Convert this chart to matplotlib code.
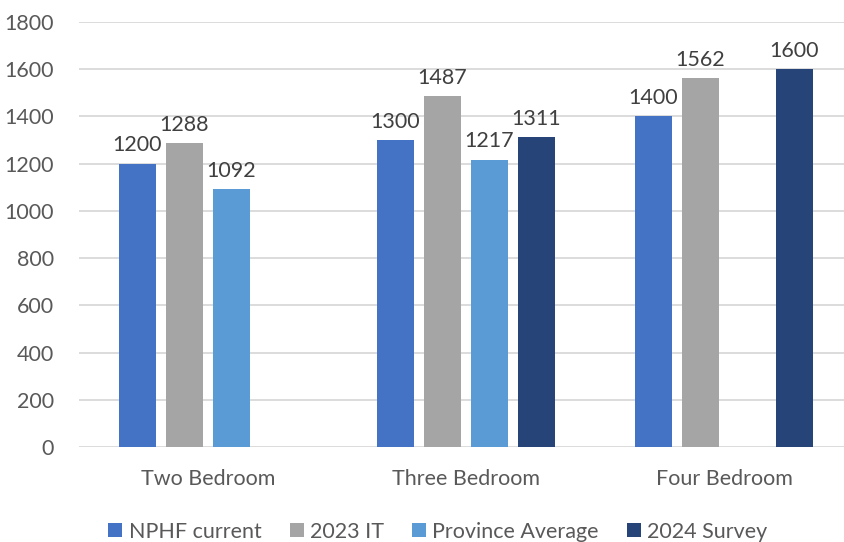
import matplotlib
matplotlib.use("Agg")
import matplotlib.pyplot as plt
import numpy as np

categories = ["Two Bedroom", "Three Bedroom", "Four Bedroom"]
series_names = ["NPHF current", "2023 IT", "Province Average", "2024 Survey"]
nphf_current = [1200, 1300, 1400]
it_2023 = [1288, 1487, 1562]
province_avg = [1092, 1217, None]
survey_2024 = [None, 1311, 1600]
yticks = [0, 200, 400, 600, 800, 1000, 1200, 1400, 1600, 1800]

colors = ["#4472C4", "#A5A5A5", "#5B9BD5", "#264478"]
series = [nphf_current, it_2023, province_avg, survey_2024]

plt.rcParams['font.family'] = ['Lato', 'DejaVu Sans']
text_color = "#595959"
fs = 15.5

fig = plt.figure(figsize=(8.45, 5.42), dpi=100)
ax = fig.add_axes([79/845, 1-447/542, 1-79/845, (447-22)/542])

x = np.arange(len(categories))
pitch = 47/258
width = 37/258
for i, (vals, name, c) in enumerate(zip(series, series_names, colors)):
    xs = [xx + (i-1.5)*pitch for xx, v in zip(x, vals) if v is not None]
    vs = [v for v in vals if v is not None]
    bars = ax.bar(xs, vs, width=width, color=c, label=name, zorder=3)
    ax.bar_label(bars, labels=[str(v) for v in vs], padding=6, fontsize=fs, color="#404040")

ax.set_xlim(-0.5, -0.5 + (845-79)/258)
ax.set_ylim(0, 1800)
ax.set_yticks(yticks)
ax.set_yticklabels([str(t) for t in yticks], fontsize=fs, color=text_color)
ax.set_xticks(x)
ax.set_xticklabels(categories, fontsize=fs, color=text_color)
ax.tick_params(axis='both', length=0)
ax.tick_params(axis='x', pad=16)
ax.tick_params(axis='y', pad=18)
ax.grid(axis='y', color="#D9D9D9", linewidth=1.3, zorder=0)
for s in ax.spines.values():
    s.set_visible(False)

leg = fig.legend(loc='lower center', bbox_to_anchor=(438/845, -0.035), ncol=4, frameon=False,
                 fontsize=fs, handlelength=0.65, handleheight=0.65, handletextpad=0.3,
                 columnspacing=1.3)
for t in leg.get_texts():
    t.set_color(text_color)

fig.savefig("out.png", dpi=100)
